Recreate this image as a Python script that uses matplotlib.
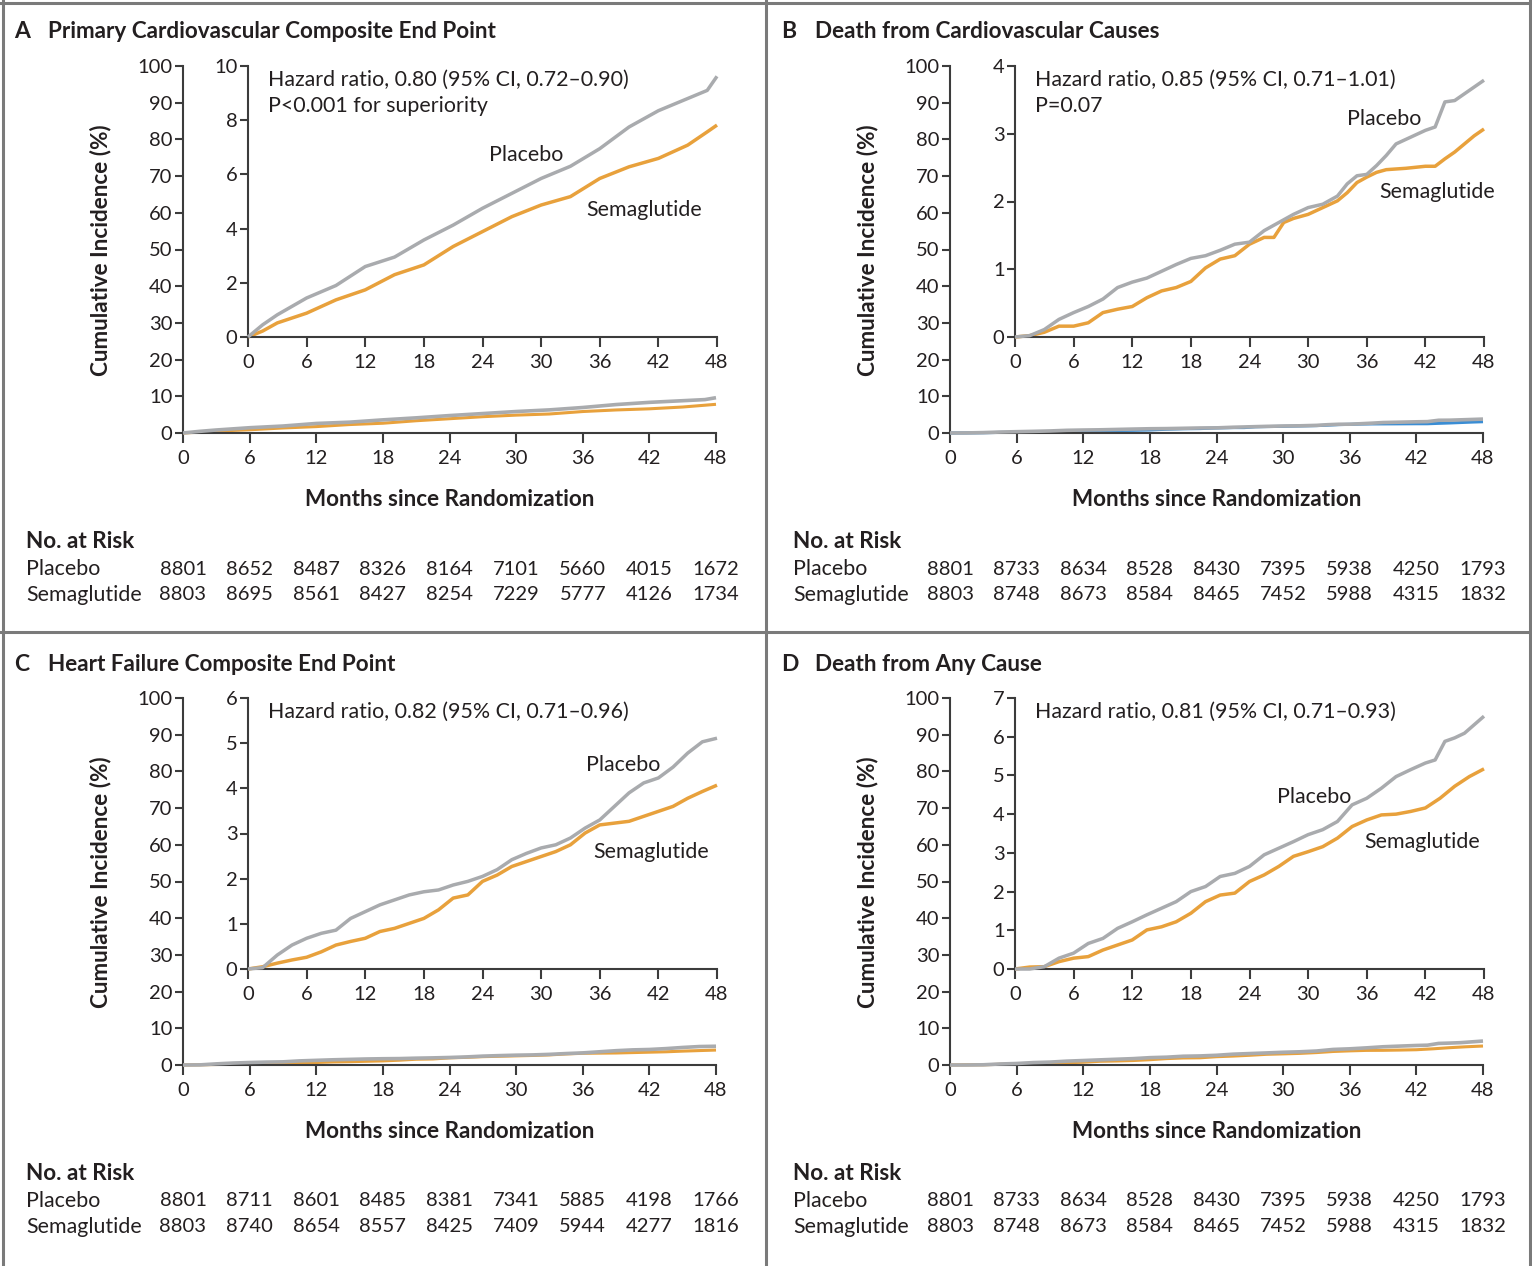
import matplotlib
matplotlib.use("Agg")
import matplotlib.pyplot as plt
from matplotlib.lines import Line2D

# ---------------- data ----------------
months_ticks = [0, 6, 12, 18, 24, 30, 36, 42, 48]

# Panel A: Primary cardiovascular composite end point
a_months = [0, 1.5, 3, 6, 9, 12, 15, 18, 21, 24, 27, 30, 33, 36, 39, 42, 45, 47, 48]
a_placebo = [0, 0.45, 0.82, 1.44, 1.9, 2.6, 2.95, 3.58, 4.13, 4.75, 5.3, 5.85, 6.3, 6.95,
             7.75, 8.35, 8.8, 9.1, 9.62]
a_sema = [0, 0.22, 0.52, 0.88, 1.37, 1.74, 2.3, 2.66, 3.34, 3.89, 4.44, 4.87, 5.18, 5.85,
          6.28, 6.59, 7.08, 7.57, 7.82]
a_risk_placebo = [8801, 8652, 8487, 8326, 8164, 7101, 5660, 4015, 1672]
a_risk_sema = [8803, 8695, 8561, 8427, 8254, 7229, 5777, 4126, 1734]

# Panel B: Death from cardiovascular causes
b_months_placebo = [0, 1.5, 3, 4.5, 6, 7.5, 9, 10.5, 12, 13.5, 15, 16.5, 18, 19.5, 21, 22.5,
                    24, 25.5, 27, 28.5, 30, 31.5, 33, 34, 35, 36, 37, 38, 39, 40.5, 42, 43,
                    44, 45, 46, 47, 48]
b_placebo = [0, 0.02, 0.11, 0.26, 0.36, 0.45, 0.56, 0.73, 0.81, 0.87, 0.97, 1.07, 1.16, 1.2,
             1.28, 1.37, 1.4, 1.57, 1.69, 1.81, 1.91, 1.96, 2.08, 2.26, 2.38, 2.4, 2.53, 2.68,
             2.85, 2.95, 3.05, 3.1, 3.47, 3.49, 3.59, 3.69, 3.79]
b_months_sema = [0, 1.5, 3, 4.5, 6, 7.5, 9, 10.5, 12, 13.5, 15, 16.5, 18, 19.5, 21, 22.5, 24,
                 25.5, 26.5, 27.5, 28.5, 30, 31.5, 33, 34, 35, 36, 37, 38, 40, 42, 43, 44, 45,
                 46, 47, 48]
b_sema = [0, 0.02, 0.07, 0.16, 0.16, 0.21, 0.36, 0.41, 0.45, 0.58, 0.68, 0.73, 0.82, 1.02,
          1.15, 1.2, 1.37, 1.47, 1.47, 1.69, 1.75, 1.81, 1.91, 2.01, 2.13, 2.28, 2.36, 2.43,
          2.47, 2.49, 2.52, 2.52, 2.63, 2.73, 2.85, 2.97, 3.07]
b_risk_placebo = [8801, 8733, 8634, 8528, 8430, 7395, 5938, 4250, 1793]
b_risk_sema = [8803, 8748, 8673, 8584, 8465, 7452, 5988, 4315, 1832]

# Panel C: Heart failure composite end point
c_months = [0, 1.5, 3, 4.5, 6, 7.5, 9, 10.5, 12, 13.5, 15, 16.5, 18, 19.5, 21, 22.5, 24,
            25.5, 27, 28.5, 30, 31.5, 33, 34.5, 36, 37.5, 39, 40.5, 42, 43.5, 45, 46.5, 48]
c_placebo = [0, 0.03, 0.31, 0.53, 0.68, 0.79, 0.86, 1.12, 1.27, 1.42, 1.53, 1.64, 1.71, 1.75,
             1.86, 1.94, 2.05, 2.2, 2.42, 2.56, 2.68, 2.75, 2.9, 3.12, 3.3, 3.6, 3.9, 4.12,
             4.23, 4.47, 4.78, 5.03, 5.11]
c_sema = [0, 0.05, 0.13, 0.2, 0.26, 0.38, 0.53, 0.61, 0.68, 0.83, 0.9, 1.01, 1.12, 1.31, 1.57,
          1.64, 1.94, 2.08, 2.27, 2.38, 2.49, 2.6, 2.75, 3.01, 3.19, 3.23, 3.27, 3.38, 3.49,
          3.6, 3.78, 3.93, 4.07]
c_risk_placebo = [8801, 8711, 8601, 8485, 8381, 7341, 5885, 4198, 1766]
c_risk_sema = [8803, 8740, 8654, 8557, 8425, 7409, 5944, 4277, 1816]

# Panel D: Death from any cause
d_months_placebo = [0, 1.5, 3, 4.5, 6, 7.5, 9, 10.5, 12, 13.5, 15, 16.5, 18, 19.5, 21, 22.5,
                    24, 25.5, 27, 28.5, 30, 31.5, 33, 34.5, 36, 37.5, 39, 40.5, 42, 43, 44,
                    45, 46, 47, 48]
d_placebo = [0, 0, 0.06, 0.28, 0.41, 0.66, 0.79, 1.05, 1.22, 1.4, 1.57, 1.74, 2.0, 2.13, 2.39,
             2.47, 2.65, 2.95, 3.12, 3.29, 3.47, 3.6, 3.81, 4.24, 4.41, 4.67, 4.97, 5.15,
             5.32, 5.4, 5.88, 5.97, 6.09, 6.31, 6.53]
d_months_sema = [0, 1.5, 3, 4.5, 6, 7.5, 9, 10.5, 12, 13.5, 15, 16.5, 18, 19.5, 21, 22.5, 24,
                 25.5, 27, 28.5, 30, 31.5, 33, 34.5, 36, 37.5, 39, 40.5, 42, 43.5, 45, 46.5, 48]
d_sema = [0, 0.05, 0.06, 0.19, 0.28, 0.32, 0.49, 0.62, 0.75, 1.01, 1.09, 1.22, 1.44, 1.74,
          1.91, 1.96, 2.26, 2.43, 2.65, 2.91, 3.03, 3.16, 3.38, 3.68, 3.85, 3.98, 4.0, 4.07,
          4.16, 4.41, 4.72, 4.97, 5.17]
d_risk_placebo = [8801, 8733, 8634, 8528, 8430, 7395, 5938, 4250, 1793]
d_risk_sema = [8803, 8748, 8673, 8584, 8465, 7452, 5988, 4315, 1832]

# ---------------- style ----------------
W, H = 1532, 1266
plt.rcParams['font.family'] = ['Lato', 'DejaVu Sans']
TXT = '#231f20'
AXC = '#3c3c3c'
GRAY = '#a9abae'
ORANGE = '#e8a13c'
BLUE = '#3a8dd4'
FS = 14.5      # numbers
FSW = 15.4     # words
FSB = 16.2     # bold headings
DY = 2         # vertical text nudge (px)

fig = plt.figure(figsize=(W / 100, H / 100), dpi=100)
fig.patch.set_facecolor('white')


def add_ax(l, t, r, b):
    return fig.add_axes([l / W, 1 - b / H, (r - l) / W, (b - t) / H])


def style(ax, xlen=10):
    for s in ('top', 'right'):
        ax.spines[s].set_visible(False)
    for s in ('left', 'bottom'):
        ax.spines[s].set_color(AXC)
        ax.spines[s].set_linewidth(1.5)
    ax.tick_params(axis='y', direction='out', length=6, width=1.5, color=AXC,
                   labelsize=FS, labelcolor=TXT, pad=1.5)
    ax.tick_params(axis='x', direction='out', length=xlen * 0.72, width=1.5, color=AXC,
                   labelsize=FS, labelcolor=TXT, pad=5)
    ax.patch.set_visible(False)


def ftext(x, y, s, **kw):
    kw.setdefault('fontsize', FSW)
    kw.setdefault('color', TXT)
    return fig.text(x / W, 1 - (y + DY) / H, s, **kw)


def panel(ox, oy, letter, title, mp, yp, ms, ys, ins_max, hr_lines,
          pla_lab, sema_lab, risk_p, risk_s, main_sema_color):
    L, R = ox + 183, ox + 716
    ax = add_ax(L, oy + 66, R, oy + 433)
    style(ax, xlen=10)
    ax.set_xlim(0, 48)
    ax.set_ylim(0, 100)
    ax.set_xticks(months_ticks)
    ax.set_yticks(range(0, 101, 10))
    ax.plot(mp, yp, color=GRAY, lw=2.6, clip_on=False, solid_capstyle='butt', zorder=3)
    ax.plot(ms, ys, color=main_sema_color, lw=2.2, clip_on=False, solid_capstyle='butt', zorder=2)

    ins = add_ax(ox + 248, oy + 66, ox + 717, oy + 337)
    style(ins, xlen=10)
    ins.set_xlim(0, 48)
    ins.set_ylim(0, ins_max)
    ins.set_xticks(months_ticks)
    step = 2 if ins_max == 10 else 1
    ins.set_yticks(range(0, ins_max + 1, step))
    ins.plot(mp, yp, color=GRAY, lw=2.5, clip_on=False, solid_capstyle='butt', zorder=3)
    ins.plot(ms, ys, color=ORANGE, lw=2.5, clip_on=False, solid_capstyle='butt', zorder=2)

    for i, line in enumerate(hr_lines):
        ftext(ox + 268, oy + 78 + 26 * i, line, ha='left', va='center')
    ftext(pla_lab[0], pla_lab[1], 'Placebo', ha='left', va='center')
    ftext(sema_lab[0], sema_lab[1], 'Semaglutide', ha='left', va='center')

    ftext(ox + 14, oy + 30, letter, ha='left', va='center', fontsize=16.5, fontweight='bold')
    ftext(ox + 48, oy + 30, title, ha='left', va='center', fontsize=FSB, fontweight='bold')
    ftext(ox + 101, oy + 248, 'Cumulative Incidence (%)', ha='center', va='center',
          rotation=90, fontsize=FSB, fontweight='bold')
    ftext(ox + 450, oy + 497, 'Months since Randomization', ha='center', va='center',
          fontsize=FSB, fontweight='bold')

    ftext(ox + 26, oy + 540, 'No. at Risk', ha='left', va='center', fontsize=FSB,
          fontweight='bold')
    ftext(ox + 26, oy + 567, 'Placebo', ha='left', va='center')
    ftext(ox + 26, oy + 593, 'Semaglutide', ha='left', va='center')
    for i, m in enumerate(months_ticks):
        xp = L + (R - L) * m / 48
        ftext(xp, oy + 567, str(risk_p[i]), ha='center', va='center', fontsize=FS)
        ftext(xp, oy + 593, str(risk_s[i]), ha='center', va='center', fontsize=FS)


panel(0, 0, 'A', 'Primary Cardiovascular Composite End Point',
      a_months, a_placebo, a_months, a_sema, 10,
      ['Hazard ratio, 0.80 (95% CI, 0.72\u20130.90)', 'P<0.001 for superiority'],
      (489, 153), (586, 208), a_risk_placebo, a_risk_sema, ORANGE)

panel(767, 0, 'B', 'Death from Cardiovascular Causes',
      b_months_placebo, b_placebo, b_months_sema, b_sema, 4,
      ['Hazard ratio, 0.85 (95% CI, 0.71\u20131.01)', 'P=0.07'],
      (1347, 117), (1379, 190), b_risk_placebo, b_risk_sema, BLUE)

panel(0, 632, 'C', 'Heart Failure Composite End Point',
      c_months, c_placebo, c_months, c_sema, 6,
      ['Hazard ratio, 0.82 (95% CI, 0.71\u20130.96)'],
      (586, 763), (593, 850), c_risk_placebo, c_risk_sema, ORANGE)

panel(767, 632, 'D', 'Death from Any Cause',
      d_months_placebo, d_placebo, d_months_sema, d_sema, 7,
      ['Hazard ratio, 0.81 (95% CI, 0.71\u20130.93)'],
      (1277, 795), (1364, 840), d_risk_placebo, d_risk_sema, ORANGE)

BC = '#7a7a7a'
for (x0, y0, x1, y1) in [(0, 2.5, W, 2.5), (0, 632, W, 632), (766, 0, 766, H),
                         (2.5, 0, 2.5, H), (W - 2.5, 0, W - 2.5, H)]:
    fig.add_artist(Line2D([x0 / W, x1 / W], [1 - y0 / H, 1 - y1 / H],
                          transform=fig.transFigure, color=BC, lw=2.2))

fig.savefig('out.png', dpi=100, facecolor='white')
